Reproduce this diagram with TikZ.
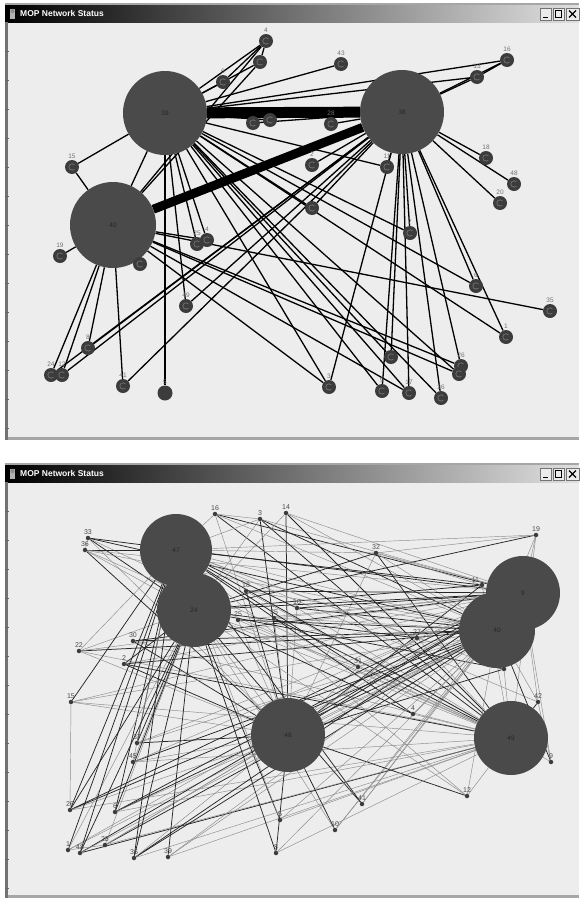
\documentclass[tikz,border=0pt]{standalone}
\usepackage{fontspec}
\setmainfont{Liberation Sans}
\usetikzlibrary{backgrounds}

\definecolor{winbg}{HTML}{EDEDED}
\definecolor{hubgray}{HTML}{4A4A4A}
\definecolor{peergray}{HTML}{3C3C3C}

\tikzset{
  hub/.style={circle, fill=hubgray, inner sep=0pt, font=\fontsize{6.5}{6.5}\selectfont, text=black!85},
  peer/.style={circle, fill=peergray, minimum size=14pt, inner sep=0pt,
    path picture={\draw[black!55, line width=0.7pt] ([shift={(40:3.2pt)}]path picture bounding box.center) arc[start angle=40, end angle=320, radius=3.2pt];}},
  solidpeer/.style={circle, fill=peergray, minimum size=15pt, inner sep=0pt},
  dot/.style={circle, fill=peergray, minimum size=4.5pt, inner sep=0pt},
  tag/.style={font=\fontsize{6.5}{6.5}\selectfont, text=black!55, inner sep=0.8pt},
  dottag/.style={font=\fontsize{7}{7}\selectfont, text=black!70, inner sep=1pt},
  link/.style={draw=black, line width=1.3pt},
  darklink/.style={draw=black!85, line width=0.75pt},
  greylink/.style={draw=black!45, line width=0.45pt},
  titletext/.style={text=white, font=\bfseries\fontsize{8.5}{9}\selectfont, anchor=west, inner sep=0pt},
}

\begin{document}
\begin{tikzpicture}[x=1pt, y=-1pt]
\useasboundingbox (0,0) rectangle (579,900);

% window frames
\begin{scope}[on background layer]
  \fill[white] (0,0) rectangle (579,900);
  \foreach \top/\bot in {3/440, 463/898} {
    \fill[black!35] (5,\top) rectangle (579,\bot);
    \fill[winbg] (8,\top+19) rectangle (579,\bot-3);
    \shade[left color=black, right color=black!12] (5,\top+2) rectangle (579,\top+19);
    \fill[black!55] (5,\top+19) rectangle (8,\bot);
    \foreach \k in {1,...,14}
      \draw[black!60, line width=0.6pt] (5,\top+19+29*\k) -- (9,\top+19+29*\k);
    \fill[black!30] (10,\top+6) rectangle (15,\top+16);
    \fill[black!45] (12.5,\top+8) circle (2.2pt);
    % buttons
    \draw[black!55, fill=black!8] (540,\top+5) rectangle (551,\top+17);
    \draw[black!55, fill=black!8] (553,\top+5) rectangle (564,\top+17);
    \draw[black!55, fill=black!8] (566,\top+5) rectangle (579,\top+17);
    \draw[black, line width=1.2pt] (543,\top+14.5) -- (548,\top+14.5);
    \draw[black, line width=0.8pt] (555.5,\top+7.5) rectangle (561.5,\top+14.5);
    \draw[black, line width=1.3pt] (569,\top+7.5) -- (576,\top+14.5) (576,\top+7.5) -- (569,\top+14.5);
  }
\end{scope}

\node[titletext] (title1) at (20,13.5) {MOP Network Status};
\node[titletext] (title2) at (20,473.5) {MOP Network Status};

% first window
\node[hub, minimum size=84pt] (h39) at (165,113) {39};
\node[hub, minimum size=84pt] (h38) at (402,112) {38};
\node[hub, minimum size=86pt] (h40) at (113,225) {40};

\node[peer, label={[tag]above:4}] (t4) at (266,41) {};
\node[peer] (ta) at (260,62) {};
\node[peer, label={[tag]above:6}] (t6) at (223,82) {};
\node[peer, label={[tag]above:43}] (t43) at (341,64) {};
\node[peer, label={[tag]above:16}] (t16) at (507,60) {};
\node[peer, label={[tag]above:13}] (t13) at (477,77) {};
\node[peer, label={[tag]above:28}] (t28) at (331,124) {};
\node[peer] (tb) at (253,123) {};
\node[peer] (tc) at (270,120) {};
\node[peer, label={[tag]above:15}] (t15) at (72,167) {};
\node[peer, label={[tag]above:2}] (t2) at (312,165) {};
\node[peer, label={[tag]above:11}] (t11) at (387,167) {};
\node[peer, label={[tag]above:18}] (t18) at (486,158) {};
\node[peer, label={[tag]above:48}] (t48) at (514,184) {};
\node[peer, label={[tag]above:20}] (t20) at (500,203) {};
\node[peer] (td) at (312,208) {};
\node[peer, label={[tag]above:19}] (t19) at (60,256) {};
\node[peer, label={[tag]above:25}] (t25) at (197,244) {};
\node[peer, label={[tag]above:4}] (te) at (207,240) {};
\node[peer] (tf) at (140,264) {};
\node[peer, label={[tag]above:7}] (t7) at (410,233) {};
\node[peer, label={[tag]above:49}] (t49) at (186,306) {};
\node[peer, label={[tag]above:6}] (t6b) at (476,286) {};
\node[peer, label={[tag]above:35}] (t35) at (550,311) {};
\node[peer, label={[tag]above:1}] (t1) at (506,337) {};
\node[peer, label={[tag]above:8}] (t8) at (88,348) {};
\node[peer, label={[tag]above:24}] (t24) at (51,375) {};
\node[peer, label={[tag]above:12}] (t12) at (62,375) {};
\node[peer, label={[tag]above:41}] (t41) at (123,386) {};
\node[solidpeer, label={[tag]above:5}] (t5) at (165,393) {};
\node[peer, label={[tag]above:3}] (t3) at (329,387) {};
\node[peer, label={[tag]above:9}] (t9) at (382,391) {};
\node[peer, label={[tag]above:17}] (t17) at (409,393) {};
\node[peer, label={[tag]above:26}] (t26) at (441,398) {};
\node[peer] (tg) at (391,357) {};
\node[peer, label={[tag]above:26}] (t26b) at (461,366) {};
\node[peer] (th) at (459,374) {};

% second window
\node[hub, minimum size=72pt] (B47) at (176,550) {47};
\node[hub, minimum size=74pt] (B24) at (194,610) {24};
\node[hub, minimum size=74pt] (B9) at (523,593) {9};
\node[hub, minimum size=76pt] (B40) at (497,630) {40};
\node[hub, minimum size=74pt] (B48) at (288,735) {48};
\node[hub, minimum size=74pt] (B49) at (511,738) {49};

\node[dot, label={[dottag]above:16}] (b16) at (215,514) {};
\node[dot, label={[dottag]above:3}] (b3) at (260,519) {};
\node[dot, label={[dottag]above:14}] (b14) at (286,513) {};
\node[dot, label={[dottag]above:33}] (b33) at (88,538) {};
\node[dot, label={[dottag]above:36}] (b36) at (85,550) {};
\node[dot, label={[dottag]above:19}] (b19) at (536,535) {};
\node[dot, label={[dottag]above:32}] (b32) at (376,553) {};
\node[dot, label={[dottag]above left:11}] (b11) at (482,585) {};
\node[dot, label={[dottag]above:18}] (b18) at (246,591) {};
\node[dot, label={[dottag]above:10}] (b10) at (297,608) {};
\node[dot, label={[dottag]above:35}] (b35) at (274,618) {};
\node[dot, label={[dottag]above:25}] (b25) at (238,620) {};
\node[dot, label={[dottag]above:30}] (b30) at (133,641) {};
\node[dot, label={[dottag]above:22}] (b22) at (79,651) {};
\node[dot, label={[dottag]above:2}] (b2) at (124,664) {};
\node[dot, label={[dottag]above:27}] (b27) at (417,638) {};
\node[dot, label={[dottag]above:31}] (b31) at (358,667) {};
\node[dot, label={[dottag]above:20}] (b20) at (504,669) {};
\node[dot, label={[dottag]above:15}] (b15) at (71,702) {};
\node[dot, label={[dottag]above:37}] (b37) at (137,743) {};
\node[dot, label={[dottag]above:45}] (b45) at (133,762) {};
\node[dot, label={[dottag]above:42}] (b42) at (538,702) {};
\node[dot, label={[dottag]above:4}] (b4) at (413,714) {};
\node[dot, label={[dottag]above:9}] (b9) at (551,762) {};
\node[dot, label={[dottag]above:26}] (b26) at (70,810) {};
\node[dot, label={[dottag]above:6}] (b6) at (115,812) {};
\node[dot, label={[dottag]above:5}] (b5) at (280,820) {};
\node[dot, label={[dottag]above:41}] (b41) at (362,804) {};
\node[dot, label={[dottag]above:10}] (b10b) at (335,830) {};
\node[dot, label={[dottag]above:12}] (b12) at (467,796) {};
\node[dot, label={[dottag]above:1}] (b1) at (68,850) {};
\node[dot, label={[dottag]above:48}] (b48) at (80,853) {};
\node[dot, label={[dottag]above:23}] (b23) at (105,845) {};
\node[dot, label={[dottag]above:36}] (b36b) at (134,858) {};
\node[dot, label={[dottag]above:39}] (b39) at (168,857) {};
\node[dot, label={[dottag]above:8}] (b8) at (276,853) {};

% links, behind the nodes
\begin{scope}[on background layer]
  \draw[black, line width=11pt] (h39) -- (h38);
  \draw[black, line width=9pt] (h40) -- (h38);
  \path[link]
    (h39) edge (t4) edge (ta) edge (t6) edge (t43) edge (t15) edge (tc)
          edge (te) edge (t25) edge (t5) edge (t3) edge (t17) edge (t26)
          edge (t1) edge (t6b) edge (tg) edge (th) edge (t7) edge (td)
          edge (t11) edge (t16) edge (t13) edge (t49) edge (h40) edge (t9)
    (h38) edge (t16) edge (t13) edge (t28) edge (t18) edge (t48) edge (t20)
          edge (t11) edge (t9) edge (t17) edge (tg) edge (t7) edge (t26b)
          edge (t24) edge (t12) edge (t8) edge (t41) edge (t49) edge (t3)
          edge (t6b) edge (t1) edge (td) edge (t2) edge (tb) edge (t26)
    (h40) edge (t15) edge (t19) edge (t24) edge (t12) edge (t8) edge (t41)
          edge (tf) edge (t35) edge (t26b) edge (th) edge (t3) edge (te)
          edge (t4) edge (ta) edge (t17)
    (t16) edge (t13) (t4) edge (ta) (t6) edge (t4);

  \foreach \s/\darkhubs/\greyhubs in {
      b16/{B9,B49}/{B47,B40,B48}, b3/{B48,B40,B49}/{B47,B9,B24},
      b14/{B48,B49}/{B9,B40,B24}, b33/{B24,B40,B9}/{B48,B49},
      b36/{B47,B48}/{B24,B49,B40,B9}, b19/{B24}/{B47,B9,B40,B49,b32},
      b32/{B24,B49}/{B47,B9,B40,B48}, b11/{B47,B24,B48}/{B49},
      b18/{B9,B48}/{B40,B49}, b10/{B9,B40,B47}/{B49,B48},
      b35/{B49}/{B9,B40,B48}, b25/{B40}/{B49,B48,B9},
      b30/{B9,B40,B48}/{B49}, b22/{B40}/{B47,B24,B49,B9,B48},
      b2/{B24,B40,B48,B49}/{B9}, b27/{B24}/{B47,B48,B49},
      b31/{B47}/{B24,B9,B40,B49,B48}, b20/{B24,B48}/{B49,B47},
      b15/{B47}/{B40,B48,B49,B9}, b37/{B24,B47,B48}/{B40,B9},
      b45/{B40}/{B47,B24,B9,B48,B49}, b42/{B49}/{B9,B40,B47},
      b4/{B47,B24}/{B49,B40}, b9/{B40}/{B9,B49},
      b26/{B47,B24,B9,B40}/{B48,B49}, b6/{B47,B24,B40,B9}/{B49,B48},
      b5/{B24}/{B47,B49,B40}, b41/{B24,B47}/{B40,B9},
      b10b/{B48}/{B24,B9,B40}, b12/{B48}/{B47,B24,B40,B49},
      b1/{B47}/{B24,B40,B9}, b48/{B47,B24,B9,B49}/{B40},
      b23/{B40}/{B24,B48,B49,B9}, b36b/{B47,B24,B9,B40}/{B48,B49},
      b39/{B24}/{B40,B49,B9}, b8/{B48,B24}/{B49,B40}} {
    \foreach \h in \darkhubs
      \draw[darklink] (\s) -- (\h);
    \foreach \h in \greyhubs
      \draw[greylink] (\s) -- (\h);
  }
  \path[greylink]
    (b3) edge (b16) (b32) edge (b11) (b42) edge (b9)
    (b26) edge (b15) (b1) edge (b23) (b33) edge (b36)
    (B47) edge (B40) (B24) edge (B49) (B48) edge (B40) (B24) edge (B48);
  \path[darklink]
    (B24) edge (B9) (B47) edge (B49) (B48) edge (B9);
\end{scope}
\end{tikzpicture}
\end{document}
